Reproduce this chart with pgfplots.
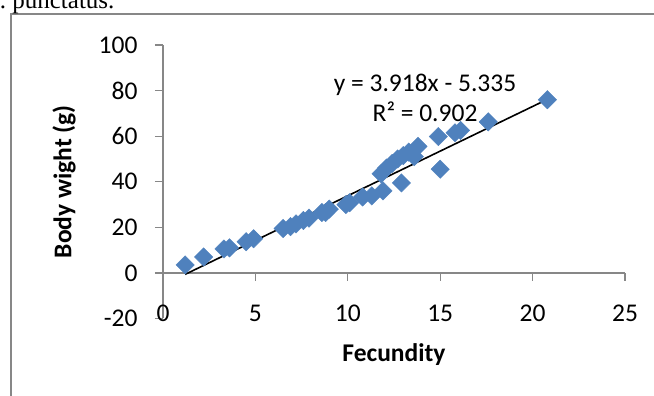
\documentclass[border=0pt]{standalone}
\usepackage{pgfplots}
\pgfplotsset{compat=1.18}
\usepackage{fontspec}
\setmainfont{Carlito}
\newfontfamily\seriffont{Liberation Serif}
\definecolor{mblue}{HTML}{4F81BD}
\definecolor{axgray}{HTML}{878787}
\pgfplotstableread{
x y
1.2 3.5
2.2 7.0
3.3 10.5
3.6 11.0
4.5 13.7
4.9 15.0
6.5 19.5
6.9 20.3
7.2 21.5
7.6 23.0
7.9 24.0
8.6 26.5
8.8 26.5
9.0 28.0
9.9 30.0
10.1 30.8
10.8 33.3
11.3 33.8
11.9 36.0
11.8 43.5
12.1 46.0
12.4 48.0
12.7 50.0
13.0 51.5
13.3 53.0
13.6 51.0
13.8 55.5
12.9 39.5
14.9 59.8
15.0 45.5
15.8 61.5
16.1 62.5
17.6 66.3
20.8 76.0
}\pts
\newcommand\fs{\fontsize{25.5}{30}\selectfont}
\begin{document}
\begin{tikzpicture}[x=1pt,y=1pt]
\begin{pgfinterruptboundingbox}
\begin{axis}[
  name=ax,
  scale only axis, width=462pt, height=273.5pt,
  xmin=0, xmax=25, ymin=-20, ymax=100,
  xtick={0,5,10,15,20,25}, ytick={-20,0,20,40,60,80,100},
  xticklabels={0,5,10,15,20,25},
  yticklabels={-20,0,20,40,60,80,100},
  axis y line*=left, axis x line*=middle,
  hide obscured x ticks=false, hide obscured y ticks=false,
  axis line style={axgray, line width=1.3pt},
  tick style={axgray, line width=1.3pt},
  major tick length=8pt,
  tick align=outside,
  ticklabel style={font=\fs, text=black},
  xticklabel style={yshift=-21pt},
  yticklabel style={xshift=-14pt},
  xlabel={\textbf{Fecundity}},
  ylabel={\textbf{Body wight (g)}},
  xlabel style={at={(axis description cs:0.5,-0.1335)}, anchor=center, font=\fs},
  ylabel style={at={(axis description cs:-0.214,0.5)}, anchor=center, font=\fs},
  clip=false,
]
\coordinate (O) at (axis cs:0,-20);
\addplot[only marks, mark=square*, mark size=6.5pt, mark options={rotate=45, fill=mblue, draw=mblue}] table[x=x,y=y] {\pts};
\addplot[black, line width=1.6pt] coordinates {(1.2,-0.63) (20.8,76.16)};
\node[anchor=base, font=\fs] at (axis cs:14.18,79.4) {y = 3.918x - 5.335};
\node[anchor=base, font=\fs] at (axis cs:14.18,66.3) {R² = 0.902};
\end{axis}
\end{pgfinterruptboundingbox}
\begin{scope}[shift={(O)}, xshift=-163pt, yshift=-77.5pt]
\useasboundingbox (0,0) rectangle (654,396);
\draw[axgray, line width=2pt] (11.5,-10) -- (11.5,381.5) -- (680,381.5);
\begin{scope}
\clip (0,0) rectangle (654,396);
\node[anchor=base west, inner sep=0pt, font=\seriffont\fontsize{25}{28}\selectfont] at (-17,387) {C. punctatus.};
\end{scope}
\end{scope}
\end{tikzpicture}
\end{document}
